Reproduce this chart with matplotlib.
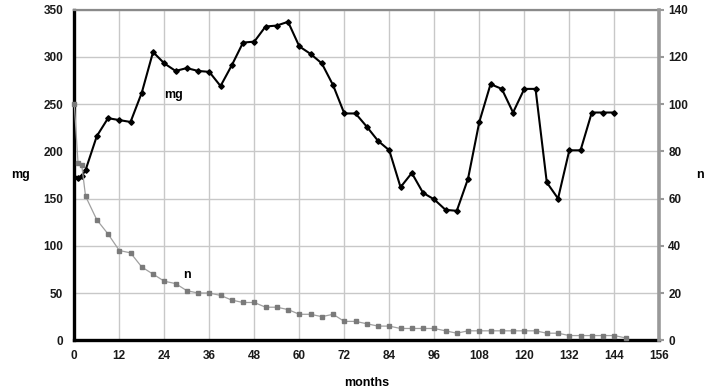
import matplotlib
matplotlib.use("Agg")
import matplotlib.pyplot as plt

plt.rcParams['font.family'] = ['Liberation Sans', 'DejaVu Sans']
plt.rcParams['font.weight'] = 'bold'

# mg series (black diamonds)
mg_months = [0, 1, 2, 3, 6, 9, 12, 15, 18, 21, 24, 27, 30, 33, 36, 39, 42, 45, 48,
             51, 54, 57, 60, 63, 66, 69, 72, 75, 78, 81, 84, 87, 90, 93, 96, 99,
             102, 105, 108, 111, 114, 117, 120, 123, 126, 129, 132, 135, 138, 141, 144]
mg_values = [173, 172, 174, 180, 216, 235, 233, 231, 262, 305, 293, 285, 288, 285, 284,
             269, 291, 315, 316, 332, 333, 337, 311, 303, 293, 270, 240, 240, 226, 211,
             201, 162, 177, 156, 149, 138, 137, 171, 231, 271, 266, 241, 266, 266, 167,
             150, 201, 201, 241, 241, 241]

# n series (gray squares)
n_months = [0, 1, 2, 3, 6, 9, 12, 15, 18, 21, 24, 27, 30, 33, 36, 39, 42, 45, 48,
            51, 54, 57, 60, 63, 66, 69, 72, 75, 78, 81, 84, 87, 90, 93, 96, 99,
            102, 105, 108, 111, 114, 117, 120, 123, 126, 129, 132, 135, 138, 141, 144, 147]
n_values = [100, 75, 74, 61, 51, 45, 38, 37, 31, 28, 25, 24, 21, 20, 20, 19, 17, 16, 16,
            14, 14, 13, 11, 11, 10, 11, 8, 8, 7, 6, 6, 5, 5, 5, 5, 4,
            3, 4, 4, 4, 4, 4, 4, 4, 3, 3, 2, 2, 2, 2, 2, 1]

x_ticks = list(range(0, 157, 12))

fig = plt.figure(figsize=(7.15, 3.91), dpi=100)
ax = fig.add_axes([0.1039, 0.1297, 0.8182, 0.846])
ax2 = ax.twinx()

ax.plot(mg_months, mg_values, color='black', lw=1.5, marker='D', markersize=2.8, zorder=3)
ax2.plot(n_months, n_values, color='#a0a0a0', lw=0.9, marker='s', markersize=3.4,
         markerfacecolor='#7a7a7a', markeredgecolor='#7a7a7a', zorder=3, clip_on=False)

ax.set_xlim(0, 156)
ax.set_ylim(0, 350)
ax2.set_ylim(0, 140)
ax.set_xticks(x_ticks)
ax.set_yticks(range(0, 351, 50))
ax2.set_yticks(range(0, 141, 20))

ax.grid(True, color='#c8c8c8', lw=1.0)
ax.set_axisbelow(True)

for s in ['left', 'bottom']:
    ax.spines[s].set_color('black')
    ax.spines[s].set_linewidth(2.4)
ax.spines['top'].set_color('#8a8a8a')
ax.spines['top'].set_linewidth(1.6)
ax.spines['right'].set_visible(False)
for s in ['left', 'bottom', 'top']:
    ax2.spines[s].set_visible(False)
ax2.spines['right'].set_color('#999999')
ax2.spines['right'].set_linewidth(2.6)

ax.tick_params(axis='both', length=0, labelsize=8.5, colors='#1a1a1a')
ax.tick_params(axis='y', pad=8)
ax.tick_params(axis='x', pad=7)
ax2.tick_params(axis='y', length=3.5, width=1.5, color='#999999', labelsize=8.5,
                labelcolor='#1a1a1a', pad=3)

ax.set_xlabel('months', fontsize=9, fontweight='bold', labelpad=11)
fig.text(0.028, 0.553, 'mg', fontsize=9, fontweight='bold', ha='center', va='center')
fig.text(0.979, 0.553, 'n', fontsize=9, fontweight='bold', ha='center', va='center')

ax.text(26.5, 260, 'mg', fontsize=9, fontweight='bold', ha='center', va='center')
ax2.text(30, 27.5, 'n', fontsize=9, fontweight='bold', ha='center', va='center')

fig.savefig('out.png', dpi=100)
